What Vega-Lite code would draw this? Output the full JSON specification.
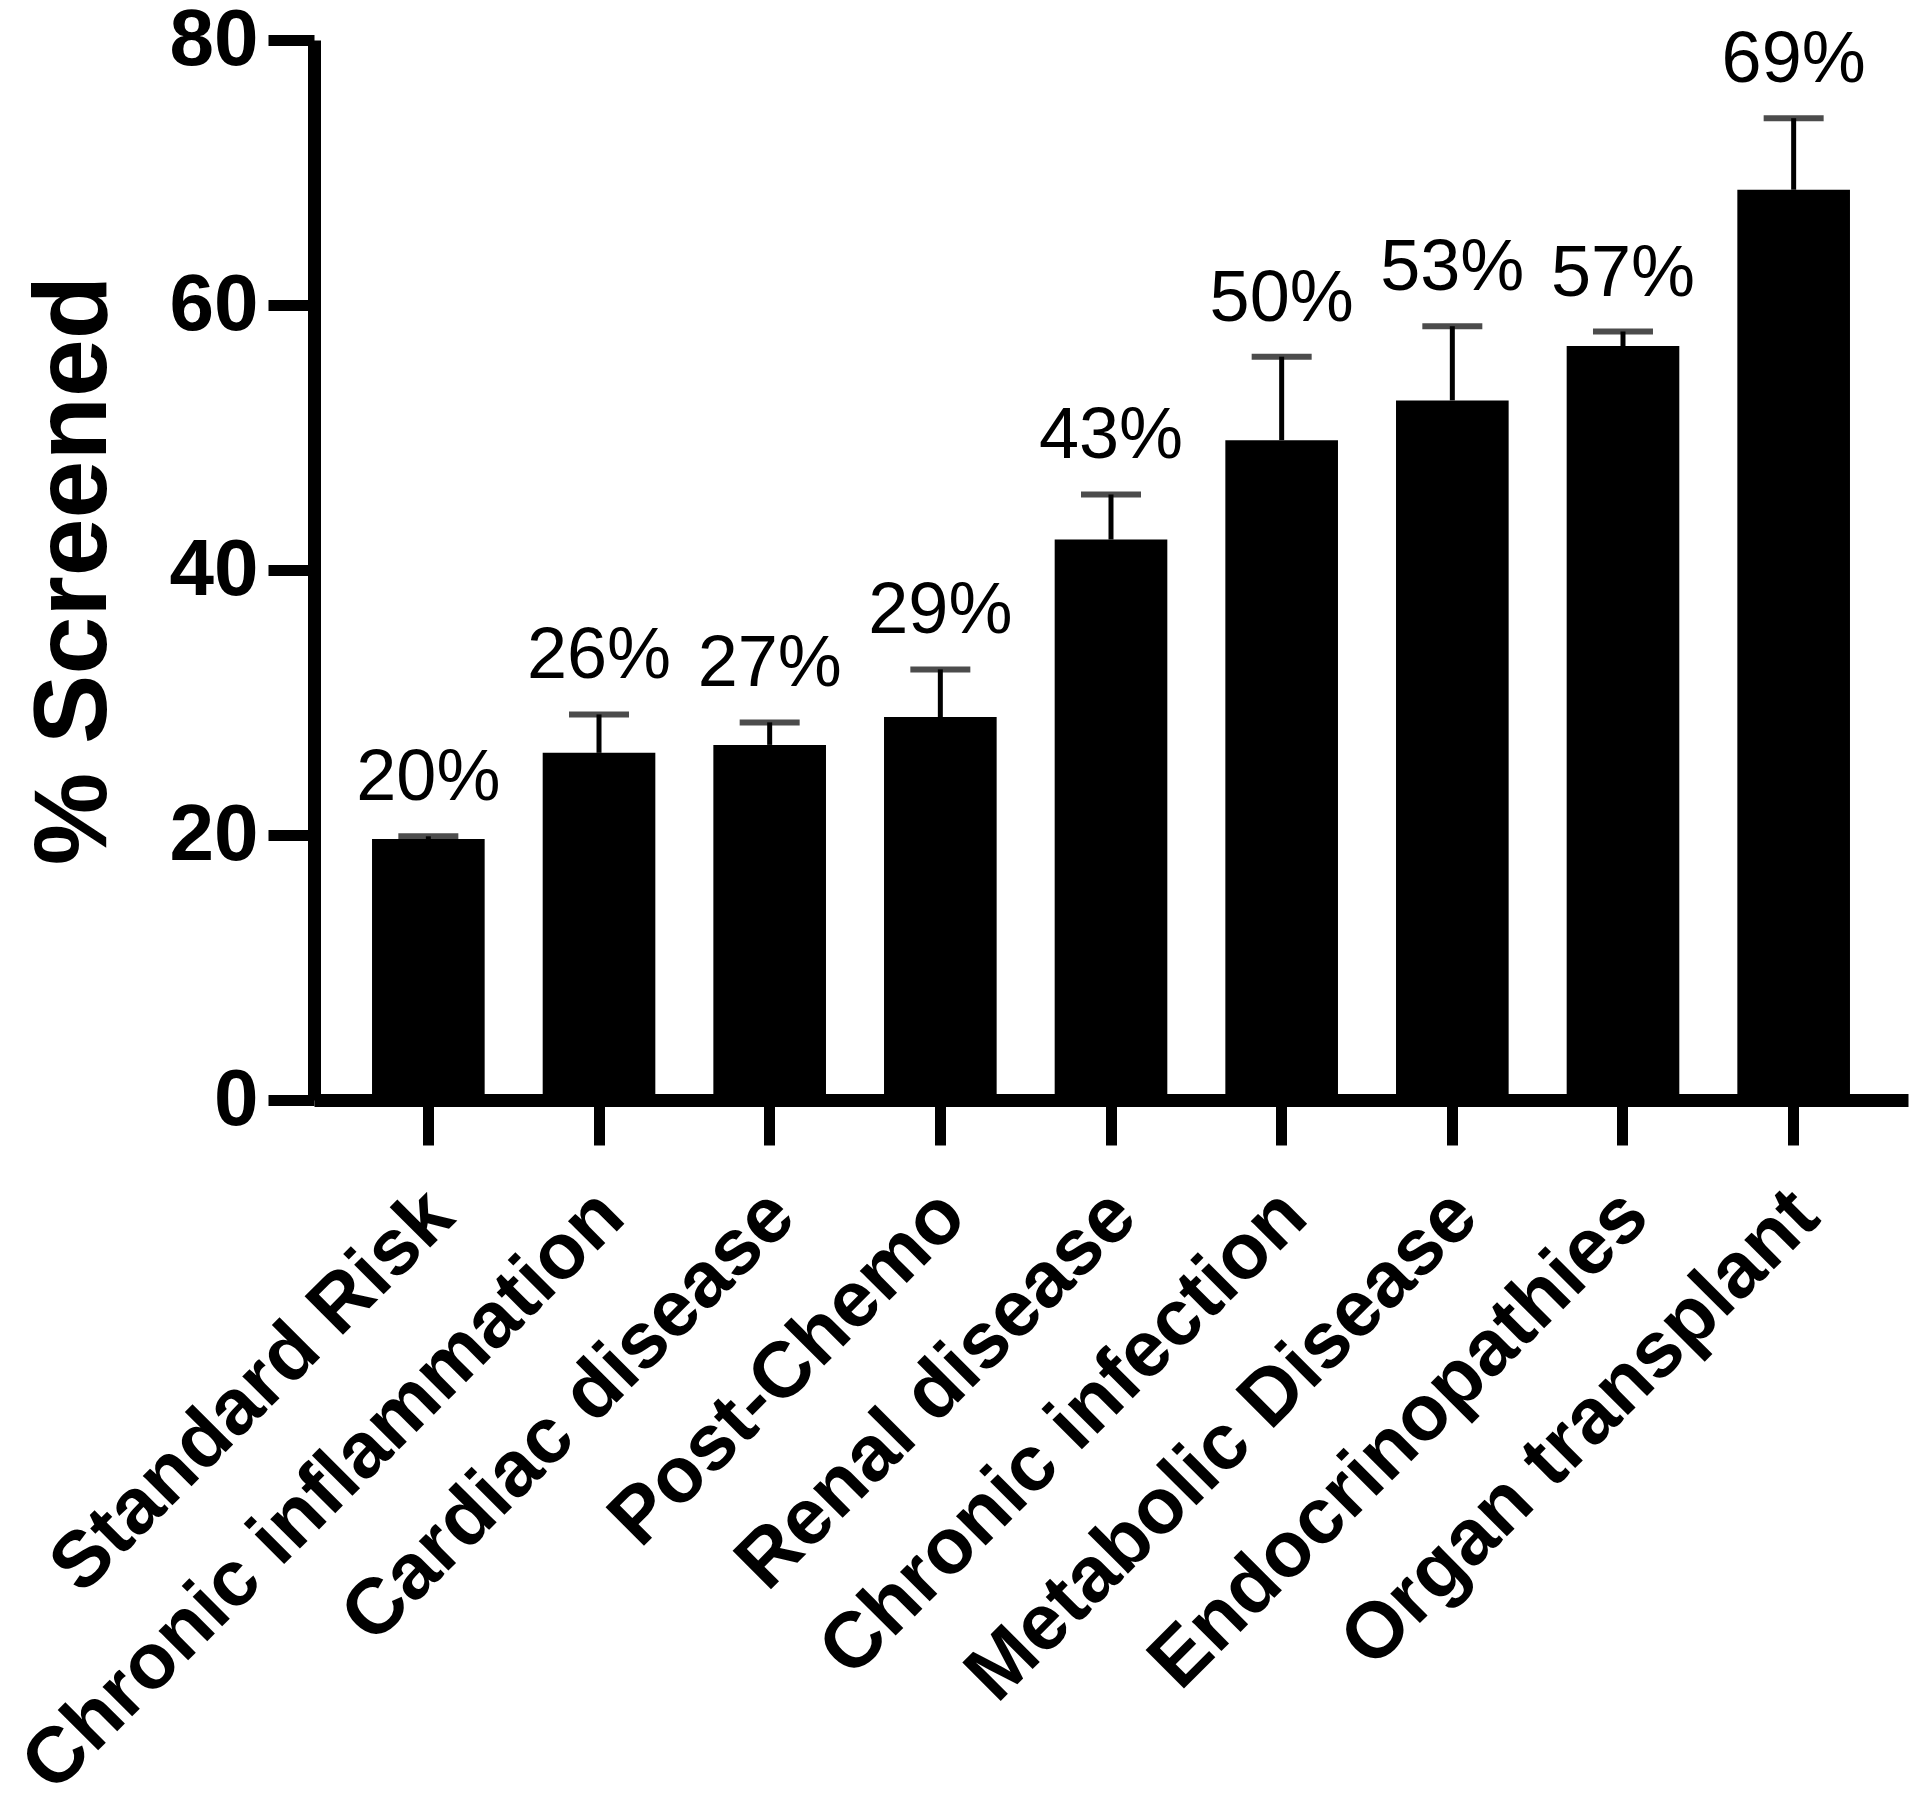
{
  "$schema": "https://vega.github.io/schema/vega-lite/v6.json",
  "width": 1594,
  "height": 1060,
  "autosize": {"type": "none"},
  "padding": {"left": 314, "top": 40, "right": 12, "bottom": 698},
  "background": "white",
  "config": {
    "view": {"stroke": null},
    "font": "Liberation Sans",
    "axis": {
      "domainColor": "black",
      "tickColor": "black",
      "labelColor": "black",
      "titleColor": "black",
      "labelFont": "Liberation Sans",
      "titleFont": "Liberation Sans",
      "grid": false
    }
  },
  "data": {
    "values": [
      {"group": "Standard Risk", "value": 19.7, "top": 19.9, "label": "20%"},
      {"group": "Chronic inflammation", "value": 26.2, "top": 29.1, "label": "26%"},
      {"group": "Cardiac disease", "value": 26.8, "top": 28.5, "label": "27%"},
      {"group": "Post-Chemo", "value": 28.9, "top": 32.5, "label": "29%"},
      {"group": "Renal disease", "value": 42.3, "top": 45.7, "label": "43%"},
      {"group": "Chronic infection", "value": 49.8, "top": 56.1, "label": "50%"},
      {"group": "Metabolic Disease", "value": 52.8, "top": 58.4, "label": "53%"},
      {"group": "Endocrinopathies", "value": 56.9, "top": 58.0, "label": "57%"},
      {"group": "Organ transplant", "value": 68.7, "top": 74.1, "label": "69%"}
    ]
  },
  "encoding": {
    "x": {
      "field": "group",
      "type": "nominal",
      "sort": null,
      "scale": {"paddingInner": 0.34, "paddingOuter": 0.34},
      "axis": {
        "title": null,
        "domainWidth": 13,
        "tickSize": 45,
        "tickWidth": 11,
        "labelAngle": -45,
        "labelAlign": "right",
        "labelBaseline": "middle",
        "labelFontSize": 79,
        "labelFontWeight": "bold",
        "labelPadding": 58,
        "labelOffset": 12,
        "labelLimit": 2000
      }
    }
  },
  "layer": [
    {
      "mark": {"type": "rule", "color": "black", "strokeWidth": 5},
      "encoding": {
        "y": {"field": "value", "type": "quantitative"},
        "y2": {"field": "top"}
      }
    },
    {
      "mark": {"type": "bar", "color": "black"},
      "encoding": {
        "y": {
          "field": "value",
          "type": "quantitative",
          "scale": {"domain": [0, 80], "nice": false},
          "axis": {
            "title": "% Screened",
            "values": [0, 20, 40, 60, 80],
            "domainWidth": 13,
            "tickSize": 46,
            "tickWidth": 11,
            "labelFontSize": 80,
            "labelFontWeight": "bold",
            "labelPadding": 10,
            "titleFontSize": 104,
            "titleFontWeight": "bold",
            "titlePadding": 42
          }
        }
      }
    },
    {
      "mark": {"type": "tick", "color": "black", "size": 60, "thickness": 6},
      "encoding": {
        "y": {"field": "top", "type": "quantitative"}
      }
    },
    {
      "mark": {"type": "text", "color": "black", "fontSize": 72, "baseline": "alphabetic", "dy": -36, "font": "Liberation Sans"},
      "encoding": {
        "y": {"field": "top", "type": "quantitative"},
        "text": {"field": "label"}
      }
    }
  ]
}
